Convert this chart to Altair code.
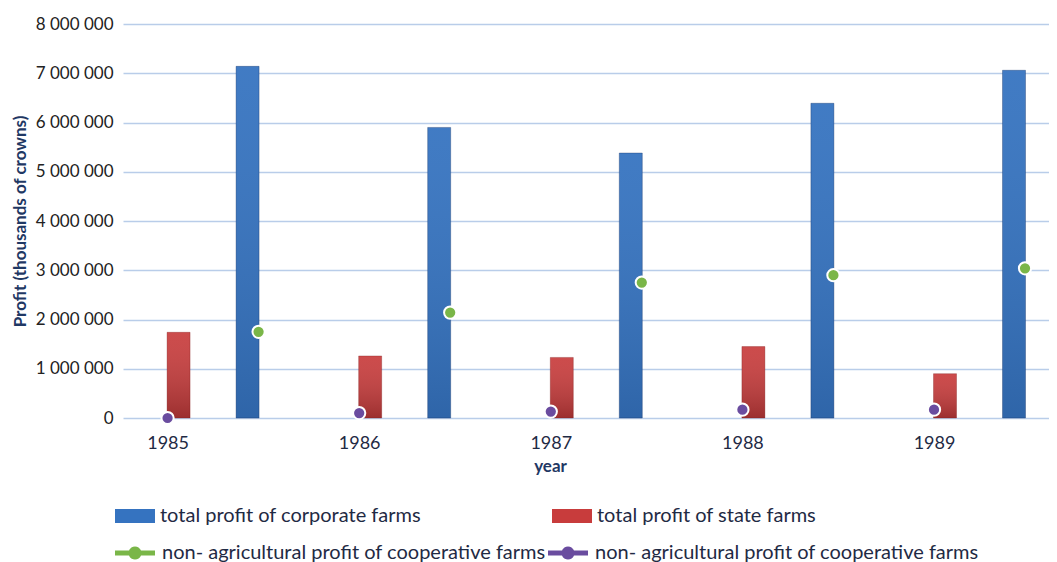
import altair as alt
import pandas as pd

# ---- data ----
years = [1985, 1986, 1987, 1988, 1989]
corporate_profit = [7140000, 5900000, 5380000, 6390000, 7060000]
state_profit = [1740000, 1260000, 1230000, 1450000, 900000]
coop_nonagri_green = [1750000, 2140000, 2750000, 2900000, 3040000]
coop_nonagri_purple = [0, 100000, 130000, 170000, 170000]

bar_series = ["total profit of corporate farms", "total profit of state farms"]
point_series = ["green", "purple"]
point_label = "non- agricultural profit of cooperative farms"
y_ticks = [0, 1000000, 2000000, 3000000, 4000000, 5000000, 6000000, 7000000, 8000000]

BLUE = "#3573c0"
RED = "#c83c3c"
GREEN = "#7ab648"
PURPLE = "#6a4c9f"
FONT = "Lato"

corp_df = pd.DataFrame({"year": years, "value": corporate_profit, "series": bar_series[0]})
state_df = pd.DataFrame({"year": years, "value": state_profit, "series": bar_series[1]})
green_df = pd.DataFrame({"year": years, "value": coop_nonagri_green, "series": point_series[0]})
purple_df = pd.DataFrame({"year": years, "value": coop_nonagri_purple, "series": point_series[1]})

x_enc = alt.X(
    "year:Q",
    scale=alt.Scale(domain=[1984.7935, 1989.574], nice=False, zero=False),
    axis=alt.Axis(
        values=years, format="d", grid=False, domain=False, ticks=False, tickSize=0,
        labelFont=FONT, labelFontSize=18, labelColor="#1f2a44",
        labelBaseline="middle", labelPadding=25,
        title="year", titleFont=FONT, titleFontSize=17, titleFontWeight="bold",
        titleColor="#1f3864", titleX=427, titleY=48, titleBaseline="middle",
        titleAlign="center",
    ),
)
y_enc = alt.Y(
    "value:Q",
    scale=alt.Scale(domain=[0, 8000000], nice=False),
    axis=alt.Axis(
        values=y_ticks, grid=True, gridColor="#b9cde9", gridWidth=1.5,
        domain=False, ticks=False, tickSize=0,
        labelExpr="replace(format(datum.value, ',d'), /,/g, ' ')",
        labelFont=FONT, labelFontSize=17, labelColor="#222222", labelPadding=10,
        title="Profit (thousands of crowns)", titleFont=FONT, titleFontSize=17,
        titleFontWeight="bold", titleColor="#1f3864",
        titleAngle=270, titleX=-103, titleY=197, titleBaseline="middle", titleAlign="center",
    ),
)

rect_path = "M-1,-0.35H1V0.35H-1Z"
line_dot_path = ("M-1,-0.12H-0.3A0.32,0.32,0,0,1,0.3,-0.12H1V0.12H0.3"
                 "A0.32,0.32,0,0,1,-0.3,0.12H-1Z"
                 "M0.32,0A0.32,0.32,0,1,1,-0.32,0A0.32,0.32,0,1,1,0.32,0Z")

bar_legend = alt.Legend(
    title=None, orient="none", legendX=-8, legendY=472, direction="horizontal",
    columnPadding=131, symbolType=rect_path, symbolSize=1600, symbolStrokeWidth=0,
    labelFont=FONT, labelFontSize=20, labelColor="#1f2a44", labelOffset=5, labelLimit=600,
)
point_legend = alt.Legend(
    title=None, orient="none", legendX=-8, legendY=509, direction="horizontal",
    columnPadding=2, symbolType=line_dot_path, symbolSize=1600, symbolStrokeWidth=0,
    labelFont=FONT, labelFontSize=20, labelColor="#1f2a44", labelOffset=7, labelLimit=600,
    labelExpr="'" + point_label + "'",
)

bar_color = alt.Color("series:N", scale=alt.Scale(domain=bar_series, range=[BLUE, RED]),
                      legend=bar_legend)
pt_fill = alt.Fill("series:N", scale=alt.Scale(domain=point_series, range=[GREEN, PURPLE]),
                   legend=point_legend)

def shade(top, bottom):
    return alt.Gradient(
        gradient="linear", x1=0, y1=0, x2=0, y2=1,
        stops=[alt.GradientStop(offset=0, color=top),
               alt.GradientStop(offset=1, color=bottom)],
    )

blue_shade = shade("rgba(255,255,255,0.06)", "rgba(0,0,0,0.12)")
red_shade = shade("rgba(255,255,255,0.08)", "rgba(0,0,0,0.22)")

BAR_W = 23
corp_bars = alt.Chart(corp_df).mark_bar(width=BAR_W, xOffset=80, orient="vertical").encode(
    x=x_enc, y=y_enc, color=bar_color)
corp_shade = alt.Chart(corp_df).mark_bar(
    width=BAR_W, xOffset=80, orient="vertical", fill=blue_shade,
    stroke="rgba(20,50,100,0.35)", strokeWidth=1).encode(x=x_enc, y=y_enc)
state_bars = alt.Chart(state_df).mark_bar(width=BAR_W, xOffset=11, orient="vertical").encode(
    x=x_enc, y=y_enc, color=bar_color)
state_shade = alt.Chart(state_df).mark_bar(
    width=BAR_W, xOffset=11, orient="vertical", fill=red_shade,
    stroke="rgba(120,20,20,0.3)", strokeWidth=1).encode(x=x_enc, y=y_enc)

green_pts = alt.Chart(green_df).mark_circle(
    size=150, xOffset=91, opacity=1, stroke="white", strokeWidth=2).encode(
    x=x_enc, y=y_enc, fill=pt_fill)
purple_pts = alt.Chart(purple_df).mark_circle(
    size=150, xOffset=0, opacity=1, stroke="white", strokeWidth=2).encode(
    x=x_enc, y=y_enc, fill=pt_fill)

chart = alt.layer(
    corp_bars, corp_shade, state_bars, state_shade, green_pts, purple_pts
).properties(
    width=926, height=394,
    autosize=alt.AutoSizeParams(type="none"),
    padding={"left": 115, "top": 16, "right": 0, "bottom": 144},
    background="white",
).configure_view(stroke=None)

chart.save("out.html", embed_options={"renderer": "svg", "actions": False})
